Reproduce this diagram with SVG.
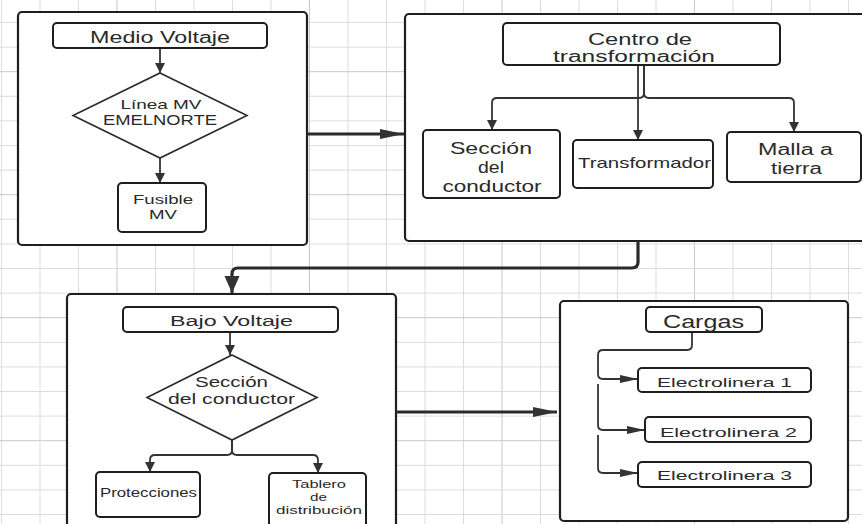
<svg xmlns="http://www.w3.org/2000/svg" width="862" height="524" viewBox="0 0 862 524">
<defs>
<style>
.grid{stroke:#dcdcdc;stroke-width:1;fill:none}
.gridm{stroke:#c8c8c8;stroke-width:1;fill:none}
.frame{fill:#fff;stroke:#1e1e1e;stroke-width:2.2}
.box{fill:#fff;stroke:#1e1e1e;stroke-width:2}
.dia{fill:#fff;stroke:#2a2a2a;stroke-width:1.6}
.ln{fill:none;stroke:#333;stroke-width:1.8;stroke-linejoin:round}
.lnb{fill:none;stroke:#2a2a2a;stroke-width:3.2;stroke-linejoin:round}
text{font-family:"Liberation Sans",Arial,sans-serif;fill:#2a2a2a;text-anchor:middle}
</style>
<marker id="av" markerUnits="userSpaceOnUse" markerWidth="12" markerHeight="12" viewBox="0 0 10 12" refX="10" refY="6" orient="auto"><path d="M0,1 L10,6 L0,11 Z" fill="#333"/></marker>
<marker id="ah" markerUnits="userSpaceOnUse" markerWidth="18" markerHeight="9" viewBox="0 0 18 9" refX="18" refY="4.5" orient="auto"><path d="M0,0.5 L18,4.5 L0,8.5 Z" fill="#333"/></marker>
<marker id="bv" markerUnits="userSpaceOnUse" markerWidth="17" markerHeight="16" viewBox="0 0 17 16" refX="17" refY="8" orient="auto"><path d="M0,0.5 L17,8 L0,15.5 Z" fill="#333"/></marker>
<marker id="bh" markerUnits="userSpaceOnUse" markerWidth="24" markerHeight="11" viewBox="0 0 24 11" refX="24" refY="5.5" orient="auto"><path d="M0,0.5 L24,5.5 L0,10.5 Z" fill="#333"/></marker>
</defs>
<rect width="862" height="524" fill="#fff"/>
<g id="grid">
<path class="grid" d="M1.5,0V524M40,0V524M78.5,0V524M155.5,0V524M194,0V524M232.5,0V524M271,0V524M348,0V524M386.5,0V524M425,0V524M463.5,0V524M540.5,0V524M579,0V524M617.5,0V524M656,0V524M733,0V524M771.5,0V524M810,0V524M848.5,0V524"/>
<path class="gridm" d="M117,0V524M309.5,0V524M502,0V524M694.5,0V524"/>
<path class="grid" d="M0,22.5H862M0,47.1H862M0,96.3H862M0,120.9H862M0,145.5H862M0,170.1H862M0,219.3H862M0,243.9H862M0,268.5H862M0,293.1H862M0,342.3H862M0,366.9H862M0,391.5H862M0,416.1H862M0,465.3H862M0,489.9H862M0,514.5H862"/>
<path class="gridm" d="M0,71.7H862M0,194.7H862M0,317.7H862M0,440.7H862"/>
</g>
<g id="mv-container">
<rect class="frame" x="18" y="12" width="289" height="233" rx="4"/>
</g>
<g id="ct-container">
<rect class="frame" x="405" y="14" width="470" height="227" rx="4"/>
</g>
<g id="bv-container">
<rect class="frame" x="67" y="294" width="329" height="240" rx="4"/>
</g>
<g id="cargas-container">
<rect class="frame" x="560" y="301" width="288" height="220" rx="4"/>
</g>
<g id="connectors">
<path class="lnb" d="M307,134H404" marker-end="url(#bh)"/>
<path class="lnb" d="M638,241V262Q638,268 632,268H238Q232,268 232,274V293" marker-end="url(#bv)"/>
<path class="lnb" d="M396,412H557" marker-end="url(#bh)"/>
<path class="ln" d="M160,48V73" marker-end="url(#av)"/>
<path class="ln" d="M160,158V183" marker-end="url(#av)"/>
<path class="ln" d="M644,65V93Q644,98 639,98H497Q492,98 492,103V130" marker-end="url(#av)"/>
<path class="ln" d="M644,65V93Q644,98 649,98H789Q794,98 794,103V132" marker-end="url(#av)"/>
<path class="ln" d="M638,65V140" marker-end="url(#av)"/>
<path class="ln" d="M230,332V355" marker-end="url(#av)"/>
<path class="ln" d="M232,440V450Q232,455 227,455H155Q150,455 150,460V472" marker-end="url(#av)"/>
<path class="ln" d="M232,440V450Q232,455 237,455H313Q318,455 318,460V473" marker-end="url(#av)"/>
<path class="ln" d="M692,332V345Q692,350 687,350H603Q598,350 598,355V374Q598,379 603,379H638" marker-end="url(#ah)"/>
<path class="ln" d="M598,384V425Q598,430 603,430H645" marker-end="url(#ah)"/>
<path class="ln" d="M598,435V468Q598,473 603,473H638" marker-end="url(#ah)"/>
</g>
<g id="medio-voltaje">
<rect class="box" x="53" y="23" width="214" height="25" rx="4"/>
<text x="160" y="43" font-size="16" textLength="140" lengthAdjust="spacingAndGlyphs">Medio Voltaje</text>
</g>
<g id="linea-mv">
<path class="dia" d="M160,73L247,115.5L160,158L73,115.5Z"/>
<text x="161" y="109" font-size="13" textLength="81" lengthAdjust="spacingAndGlyphs">Línea MV</text>
<text x="160" y="125" font-size="14.5" textLength="114" lengthAdjust="spacingAndGlyphs">EMELNORTE</text>
</g>
<g id="fusible-mv">
<rect class="box" x="118" y="183" width="88" height="49" rx="4"/>
<text x="163" y="204" font-size="13" textLength="60" lengthAdjust="spacingAndGlyphs">Fusible</text>
<text x="163" y="219" font-size="13" textLength="28" lengthAdjust="spacingAndGlyphs">MV</text>
</g>
<g id="centro-transformacion">
<rect class="box" x="503" y="23" width="277" height="42" rx="4"/>
<text x="640" y="45" font-size="16" textLength="104" lengthAdjust="spacingAndGlyphs">Centro de</text>
<text x="634" y="62" font-size="16" textLength="162" lengthAdjust="spacingAndGlyphs">transformación</text>
</g>
<g id="seccion-conductor-ct">
<rect class="box" x="423" y="130" width="137" height="68" rx="4"/>
<text x="491" y="154" font-size="16.5" textLength="82" lengthAdjust="spacingAndGlyphs">Sección</text>
<text x="491" y="173" font-size="16.5" textLength="26" lengthAdjust="spacingAndGlyphs">del</text>
<text x="492" y="192" font-size="16.5" textLength="99" lengthAdjust="spacingAndGlyphs">conductor</text>
</g>
<g id="transformador">
<rect class="box" x="573" y="140" width="140" height="48" rx="4"/>
<text x="644.5" y="168" font-size="15" textLength="133" lengthAdjust="spacingAndGlyphs">Transformador</text>
</g>
<g id="malla-tierra">
<rect class="box" x="727" y="132" width="134" height="50" rx="4"/>
<text x="795.5" y="155" font-size="16" textLength="75" lengthAdjust="spacingAndGlyphs">Malla a</text>
<text x="796.5" y="174" font-size="16" textLength="51" lengthAdjust="spacingAndGlyphs">tierra</text>
</g>
<g id="bajo-voltaje">
<rect class="box" x="123" y="307" width="215" height="25" rx="4"/>
<text x="231.5" y="326" font-size="15.5" textLength="123" lengthAdjust="spacingAndGlyphs">Bajo Voltaje</text>
</g>
<g id="seccion-conductor-bv">
<path class="dia" d="M232,355L317,397.5L232,440L147,397.5Z"/>
<text x="231.5" y="387" font-size="15.5" textLength="73" lengthAdjust="spacingAndGlyphs">Sección</text>
<text x="231.5" y="404" font-size="15.5" textLength="127" lengthAdjust="spacingAndGlyphs">del conductor</text>
</g>
<g id="protecciones">
<rect class="box" x="96" y="472" width="104" height="45" rx="4"/>
<text x="148.5" y="497" font-size="12" textLength="97" lengthAdjust="spacingAndGlyphs">Protecciones</text>
</g>
<g id="tablero-distribucion">
<rect class="box" x="269" y="473" width="97" height="60" rx="4"/>
<text x="319" y="488" font-size="11" textLength="54" lengthAdjust="spacingAndGlyphs">Tablero</text>
<text x="318.5" y="501" font-size="11" textLength="17" lengthAdjust="spacingAndGlyphs">de</text>
<text x="319" y="514" font-size="11" textLength="86" lengthAdjust="spacingAndGlyphs">distribución</text>
</g>
<g id="cargas">
<rect class="box" x="646" y="307" width="116" height="25" rx="4"/>
<text x="703.5" y="328" font-size="17.5" textLength="81" lengthAdjust="spacingAndGlyphs">Cargas</text>
</g>
<g id="electrolinera-1">
<rect class="box" x="638" y="368" width="173" height="24" rx="4"/>
<text x="724.5" y="387" font-size="13" textLength="135" lengthAdjust="spacingAndGlyphs">Electrolinera 1</text>
</g>
<g id="electrolinera-2">
<rect class="box" x="645" y="417" width="166" height="25" rx="4"/>
<text x="728.5" y="437" font-size="13" textLength="137" lengthAdjust="spacingAndGlyphs">Electrolinera 2</text>
</g>
<g id="electrolinera-3">
<rect class="box" x="638" y="462" width="173" height="25" rx="4"/>
<text x="724.5" y="480" font-size="13" textLength="135" lengthAdjust="spacingAndGlyphs">Electrolinera 3</text>
</g>
</svg>
